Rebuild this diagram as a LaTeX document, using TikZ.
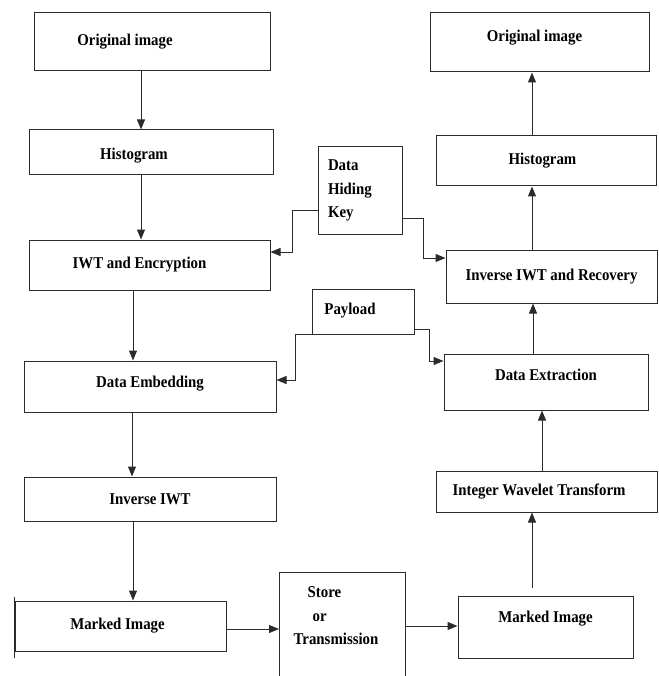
\documentclass[tikz,border=0pt]{standalone}
\usepackage{fontspec}
\setmainfont[FakeStretch=0.9]{Liberation Serif}
\usetikzlibrary{arrows.meta}
\definecolor{boxline}{HTML}{2B2B2B}

\begin{document}
\begin{tikzpicture}[x=1pt,y=-1pt,
    blk/.style={draw=boxline,line width=1pt,rectangle,inner sep=2pt,
      font=\fontsize{16.5}{23.5}\selectfont\bfseries},
    arr/.style={-{Triangle[length=10pt,width=8pt]},line width=1pt,draw=boxline}]
  \useasboundingbox (0,0) rectangle (658,676);

  % sender side
  \node[blk,minimum width=236pt,minimum height=58pt] (o1) at (152,42) {\hspace*{-54pt}Original image};
  \node[blk,minimum width=244pt,minimum height=45pt] (h1) at (151,152.5) {\hspace*{-34pt}\raisebox{-18pt}{Histogram}};
  \node[blk,minimum width=241pt,minimum height=50pt] (iwt) at (149.5,265) {\hspace*{-20pt}IWT and Encryption};
  \node[blk,minimum width=252pt,minimum height=51pt] (emb) at (150,386.5) {\raisebox{10pt}{Data Embedding}};
  \node[blk,minimum width=252pt,minimum height=44pt] (iiwt) at (150,499) {Inverse IWT};
  \node[blk,minimum width=211pt,minimum height=50pt] (m1) at (120.5,626) {\hspace*{-6pt}Marked Image};
  \draw[line width=1.3pt,boxline] ([yshift=4pt]m1.north west) -- ([yshift=-6pt]m1.south west);

  % receiver side
  \node[blk,minimum width=219pt,minimum height=59pt] (o2) at (539.5,42.5) {\hspace*{-10pt}\raisebox{14pt}{Original image}};
  \node[blk,minimum width=220pt,minimum height=50pt] (h2) at (546,161) {\hspace*{-7pt}Histogram};
  \node[blk,minimum width=211pt,minimum height=53pt] (rec) at (551.5,276.5) {Inverse IWT and Recovery};
  \node[blk,minimum width=204pt,minimum height=56pt] (ext) at (546,382) {\raisebox{14pt}{Data Extraction}};
  \node[blk,minimum width=221pt,minimum height=41pt] (iwt2) at (546.5,491.5) {\hspace*{-15pt}Integer Wavelet Transform};
  \node[blk,minimum width=175pt,minimum height=62pt] (m2) at (545.5,627) {\raisebox{20pt}{Marked Image}};

  % key, payload and channel
  \node[blk,align=left,text width=64pt,inner xsep=10pt,minimum height=87pt] (key) at (360,190.5) {Data\\Hiding\\Key};
  \node[blk,minimum width=102pt,minimum height=45pt] (pay) at (363,311.5) {\hspace*{-26pt}\raisebox{6pt}{Payload}};
  \draw[boxline,line width=1pt] (279,690) -- (279,572) -- (405,572) -- (405,690);
  \node[font=\fontsize{16.5}{23.5}\selectfont\bfseries,align=left] (store) at (336,616)
    {\hspace*{14pt}Store\\\hspace*{19pt}or\\Transmission};
  \coordinate (sl) at (279,629);
  \coordinate (sr) at (405,626);

  % connectors
  \draw[arr] (o1.south -| 141,0) -- (h1.north -| 141,0);
  \draw[arr] (h1.south -| 141,0) -- (iwt.north -| 141,0);
  \draw[arr] (iwt.south -| 133,0) -- (emb.north -| 133,0);
  \draw[arr] (emb.south -| 132,0) -- (iiwt.north -| 132,0);
  \draw[arr] (iiwt.south -| 133,0) -- (m1.north -| 133,0);
  \draw[arr] (m1.east |- sl) -- (sl);
  \draw[arr] (sr) -- (m2.west |- sr);
  \draw[arr,shorten <=8pt] (m2.north -| 532,0) -- (iwt2.south -| 532,0);
  \draw[arr] (iwt2.north -| 542,0) -- (ext.south -| 542,0);
  \draw[arr] (ext.north -| 533,0) -- (rec.south -| 533,0);
  \draw[arr] (rec.north -| 532,0) -- (h2.south -| 532,0);
  \draw[arr] (h2.north -| 532,0) -- (o2.south -| 532,0);
  \draw[arr] ([yshift=-19.5pt]key.west) -- ++(-25,0) |- ([yshift=13pt]iwt.east);
  \draw[arr] ([yshift=-27.5pt]key.east) -- ++(21,0) |- ([yshift=18.5pt]rec.west);
  \draw[arr] (pay.south west) -- ++(-16,0) |- ([yshift=6.5pt]emb.east);
  \draw[arr] ([yshift=-17.5pt]pay.east) -- ++(15,0) |- ([yshift=21pt]ext.west);
\end{tikzpicture}
\end{document}
